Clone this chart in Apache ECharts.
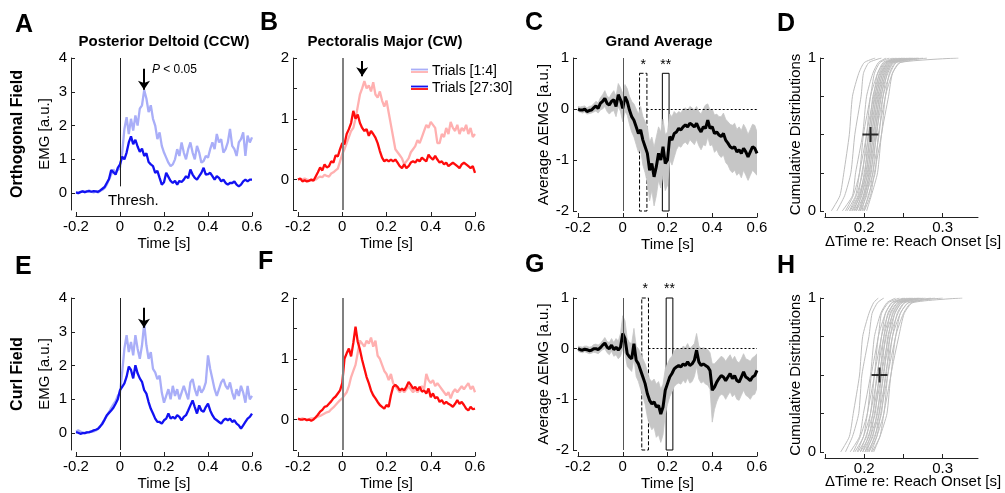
<!DOCTYPE html>
<html><head><meta charset="utf-8">
<script src="https://cdn.jsdelivr.net/npm/echarts@6/dist/echarts.min.js"></script>
<style>html,body{margin:0;padding:0;background:#fff}#c{width:1005px;height:493px}</style>
</head><body><div id="c"></div><script>
const time = [-0.20,-0.19,-0.18,-0.17,-0.16,-0.15,-0.14,-0.13,-0.12,-0.11,
 -0.10,-0.09,-0.08,-0.07,-0.06,-0.05,-0.04,-0.03,-0.02,-0.01,
 0.00,0.01,0.02,0.03,0.04,0.05,0.06,0.07,0.08,0.09,
 0.10,0.11,0.12,0.13,0.14,0.15,0.16,0.17,0.18,0.19,
 0.20,0.21,0.22,0.23,0.24,0.25,0.26,0.27,0.28,0.29,
 0.30,0.31,0.32,0.33,0.34,0.35,0.36,0.37,0.38,0.39,
 0.40,0.41,0.42,0.43,0.44,0.45,0.46,0.47,0.48,0.49,
 0.50,0.51,0.52,0.53,0.54,0.55,0.56,0.57,0.58,0.59,
 0.60];
const timeTicks = [-0.2,0,0.2,0.4,0.6];

// Panel A: Posterior Deltoid, orthogonal field
const aLate = [0.02,0.00,0.03,0.05,0.03,0.05,0.06,0.04,0.06,0.05,
 0.04,0.08,0.13,0.18,0.30,0.42,0.68,0.62,0.55,0.75,
 0.85,1.08,1.00,1.20,1.50,1.68,1.45,1.58,1.38,1.22,
 1.32,1.10,1.18,0.92,0.85,0.80,0.60,0.66,0.45,0.25,
 0.32,0.60,0.48,0.36,0.30,0.36,0.25,0.36,0.33,0.40,
 0.50,0.44,0.70,0.55,0.45,0.40,0.50,0.60,0.75,0.55,
 0.56,0.60,0.50,0.40,0.50,0.45,0.35,0.40,0.30,0.25,
 0.30,0.30,0.35,0.25,0.20,0.25,0.35,0.40,0.35,0.40,
 0.40];
const aEarly = [0.02,0.00,0.04,0.06,0.03,0.05,0.08,0.04,0.02,0.05,
 0.02,0.06,0.10,0.15,0.25,0.40,0.55,0.70,0.60,0.68,
 0.75,1.20,1.90,2.25,1.75,2.20,1.85,2.30,2.00,2.50,
 2.60,3.05,2.80,2.40,2.60,2.20,2.00,1.60,1.80,1.40,
 1.20,1.05,0.90,0.80,0.85,1.00,1.30,1.10,1.50,1.20,
 1.00,1.30,1.50,1.20,1.00,1.40,1.20,0.90,0.95,1.10,
 1.05,1.30,1.50,1.30,1.75,1.50,1.60,1.20,1.30,1.50,
 1.90,1.40,1.30,1.10,1.50,1.60,1.80,1.10,1.70,1.50,
 1.65];
// Panel B: Pectoralis Major, orthogonal field
const bLate = [0.00,0.02,-0.03,-0.01,-0.03,-0.02,0.00,-0.02,0.05,0.12,
 0.20,0.15,0.25,0.20,0.22,0.30,0.28,0.40,0.38,0.50,
 0.60,0.58,0.75,0.83,0.93,1.13,1.00,1.07,0.93,0.85,
 0.80,0.83,0.72,0.80,0.75,0.69,0.60,0.47,0.36,0.30,
 0.33,0.30,0.33,0.30,0.33,0.28,0.22,0.19,0.25,0.19,
 0.22,0.28,0.30,0.28,0.33,0.30,0.36,0.33,0.30,0.41,
 0.36,0.33,0.39,0.33,0.28,0.30,0.25,0.28,0.22,0.25,
 0.28,0.25,0.22,0.19,0.25,0.28,0.25,0.22,0.19,0.22,
 0.11];
const bEarly = [0.00,0.01,0.00,0.02,0.00,-0.01,-0.02,0.00,0.00,0.03,
 0.05,0.04,0.08,0.06,0.05,0.10,0.12,0.15,0.18,0.30,
 0.42,0.50,0.60,0.70,0.80,0.85,1.00,1.20,1.40,1.50,
 1.62,1.50,1.55,1.45,1.60,1.40,1.35,1.45,1.30,1.20,
 1.30,1.10,0.90,0.70,0.50,0.45,0.40,0.35,0.25,0.30,
 0.35,0.45,0.50,0.55,0.65,0.60,0.70,0.80,0.90,0.85,
 0.95,0.90,0.85,0.60,0.60,0.75,0.70,0.85,0.75,0.95,
 0.85,0.80,0.90,0.75,0.85,0.80,0.90,0.75,0.85,0.70,
 0.75];
// Panel C: grand average, orthogonal field
const cMean = [0.00,-0.02,-0.02,0.00,-0.05,-0.03,-0.02,0.02,0.06,0.01,
 0.11,0.15,0.21,0.11,0.08,0.15,0.18,0.05,0.28,0.18,
 0.01,0.24,0.15,-0.02,-0.15,-0.22,-0.35,-0.48,-0.41,-0.61,
 -0.74,-0.87,-1.20,-1.07,-1.33,-1.13,-0.87,-1.00,-0.74,-1.07,
 -1.00,-0.54,-0.61,-0.48,-0.45,-0.38,-0.41,-0.35,-0.31,-0.35,
 -0.28,-0.31,-0.35,-0.28,-0.38,-0.45,-0.35,-0.38,-0.22,-0.38,
 -0.35,-0.48,-0.45,-0.51,-0.54,-0.48,-0.61,-0.67,-0.74,-0.77,
 -0.74,-0.84,-0.80,-0.87,-0.77,-0.84,-0.94,-0.84,-0.74,-0.77,
 -0.87];
const cLo = [-0.05,-0.06,-0.08,-0.06,-0.10,-0.09,-0.08,-0.06,-0.04,-0.08,
 -0.02,0.00,0.05,-0.05,-0.10,-0.05,-0.03,-0.15,0.05,-0.05,
 -0.25,-0.05,-0.12,-0.30,-0.45,-0.55,-0.70,-0.85,-0.80,-1.10,
 -1.25,-1.45,-1.80,-1.60,-1.90,-1.70,-1.40,-1.55,-1.30,-1.60,
 -1.50,-1.00,-1.10,-0.95,-0.80,-0.72,-0.75,-0.68,-0.65,-0.70,
 -0.60,-0.65,-0.70,-0.60,-0.72,-0.80,-0.70,-0.72,-0.55,-0.72,
 -0.70,-0.85,-0.80,-0.90,-0.95,-0.90,-1.05,-1.10,-1.20,-1.25,
 -1.20,-1.30,-1.25,-1.35,-1.20,-1.30,-1.40,-1.30,-1.20,-1.25,
 -1.30];
const cHi = [0.05,0.04,0.05,0.06,0.02,0.05,0.06,0.10,0.15,0.12,
 0.22,0.28,0.36,0.25,0.22,0.30,0.36,0.25,0.50,0.42,
 0.30,0.48,0.40,0.25,0.15,0.10,0.00,-0.10,0.05,-0.15,
 -0.25,-0.35,-0.65,-0.55,-0.75,-0.55,-0.35,-0.45,-0.20,-0.50,
 -0.45,-0.10,-0.15,-0.05,-0.10,-0.05,-0.08,0.00,0.02,-0.02,
 0.05,0.02,-0.02,0.05,-0.05,-0.10,0.00,0.08,0.10,-0.02,
 0.00,-0.12,-0.10,-0.15,-0.15,-0.08,-0.20,-0.25,-0.30,-0.32,
 -0.28,-0.40,-0.35,-0.42,-0.30,-0.38,-0.50,-0.40,-0.30,-0.32,
 -0.45];
const cWindows = [[0.075,0.108,0.7],[0.177,0.207,0.7]];
// Panel E: Posterior Deltoid, curl field
const eLate = [0.03,0.01,-0.02,0.00,0.00,0.02,0.03,0.05,0.08,0.10,
 0.13,0.20,0.28,0.40,0.53,0.60,0.67,0.75,0.87,1.00,
 1.27,1.37,1.47,1.67,1.97,1.87,1.62,2.01,1.77,1.62,
 1.52,1.27,1.17,0.92,0.72,0.58,0.43,0.33,0.33,0.28,
 0.38,0.43,0.58,0.43,0.48,0.43,0.53,0.48,0.38,0.48,
 0.53,0.67,0.82,0.97,0.77,0.58,0.82,0.67,0.63,0.77,
 0.87,0.67,0.53,0.43,0.38,0.33,0.28,0.38,0.43,0.38,
 0.43,0.33,0.38,0.28,0.23,0.13,0.23,0.33,0.43,0.48,
 0.58];
const eEarly = [0.05,0.08,0.05,0.02,0.00,0.03,0.02,0.04,0.05,0.08,
 0.12,0.20,0.30,0.40,0.50,0.62,0.75,0.85,0.95,1.10,
 1.20,1.80,2.50,2.90,2.40,2.70,2.30,2.90,2.50,2.20,
 2.60,3.25,2.60,2.20,2.40,1.90,1.80,1.60,1.70,1.20,
 0.90,1.10,1.30,1.00,1.40,1.10,1.30,1.00,1.20,1.40,
 1.20,1.00,1.50,1.60,1.30,1.10,1.40,1.20,1.30,1.50,
 2.30,1.90,1.60,1.30,1.10,1.30,1.50,1.60,1.40,1.30,
 1.50,1.20,1.00,1.30,1.10,1.40,1.20,0.90,1.40,1.00,
 1.10];
// Panel F: Pectoralis Major, curl field
const fLate = [0.02,0.00,0.00,0.01,-0.01,0.00,-0.02,0.00,0.04,0.08,
 0.13,0.16,0.21,0.22,0.26,0.30,0.35,0.38,0.43,0.48,
 0.60,1.00,1.09,1.17,1.04,1.26,1.53,1.28,1.15,0.98,
 0.84,0.70,0.60,0.48,0.40,0.35,0.29,0.24,0.21,0.18,
 0.24,0.21,0.40,0.54,0.57,0.54,0.48,0.51,0.48,0.54,
 0.62,0.57,0.51,0.54,0.48,0.54,0.46,0.48,0.43,0.51,
 0.37,0.43,0.35,0.37,0.29,0.32,0.26,0.29,0.26,0.24,
 0.21,0.26,0.32,0.26,0.29,0.24,0.18,0.15,0.21,0.17,
 0.18];
const fEarly = [0.00,0.01,0.02,0.01,0.00,0.01,0.02,0.02,0.03,0.05,
 0.06,0.08,0.10,0.12,0.13,0.17,0.20,0.24,0.28,0.32,
 0.35,0.40,0.45,0.55,0.70,0.80,0.90,1.10,1.30,1.25,
 1.20,1.30,1.25,1.35,1.20,1.30,1.05,1.00,0.90,0.80,
 0.75,0.65,0.75,0.60,0.55,0.50,0.45,0.50,0.45,0.50,
 0.55,0.50,0.45,0.50,0.45,0.50,0.55,0.50,0.75,0.65,
 0.60,0.65,0.55,0.60,0.55,0.50,0.45,0.40,0.45,0.35,
 0.45,0.50,0.45,0.50,0.55,0.50,0.55,0.60,0.50,0.55,
 0.45];
// Panel G: grand average, curl field
const gMean = [0.00,-0.02,-0.03,-0.01,-0.02,-0.04,-0.03,0.00,0.00,-0.02,
 0.02,0.07,0.11,0.03,0.00,0.07,-0.02,0.03,-0.03,0.03,
 0.30,0.20,-0.10,-0.16,-0.20,0.10,-0.23,-0.30,-0.43,-0.56,
 -0.69,-0.89,-1.02,-1.09,-1.05,-1.15,-1.12,-1.29,-1.15,-0.82,
 -0.69,-0.56,-0.49,-0.40,-0.36,-0.33,-0.36,-0.30,-0.33,-0.26,
 -0.33,-0.30,-0.23,-0.03,-0.26,-0.33,-0.30,-0.33,-0.36,-0.43,
 -0.82,-0.76,-0.66,-0.59,-0.53,-0.56,-0.63,-0.56,-0.49,-0.59,
 -0.53,-0.63,-0.66,-0.56,-0.46,-0.56,-0.59,-0.63,-0.56,-0.53,
 -0.43];
const gLo = [-0.05,-0.07,-0.08,-0.06,-0.08,-0.10,-0.09,-0.07,-0.08,-0.10,
 -0.06,-0.02,0.00,-0.08,-0.12,-0.05,-0.15,-0.12,-0.20,-0.15,
 0.00,-0.10,-0.35,-0.40,-0.45,-0.20,-0.55,-0.65,-0.80,-0.95,
 -1.10,-1.35,-1.50,-1.60,-1.55,-1.75,-1.70,-1.85,-1.70,-1.30,
 -1.10,-0.95,-0.85,-0.75,-0.70,-0.68,-0.70,-0.62,-0.68,-0.58,
 -0.68,-0.65,-0.55,-0.35,-0.60,-0.68,-0.65,-0.70,-0.72,-0.80,
 -1.45,-1.20,-1.05,-0.95,-0.90,-0.92,-1.00,-0.92,-0.85,-0.95,
 -0.90,-1.00,-1.02,-0.92,-0.82,-0.92,-0.95,-1.00,-0.92,-0.90,
 -0.78];
const gHi = [0.05,0.04,0.03,0.05,0.05,0.03,0.04,0.08,0.09,0.07,
 0.10,0.16,0.22,0.14,0.12,0.20,0.12,0.20,0.15,0.30,
 0.65,0.55,0.20,0.12,0.10,0.40,0.05,0.00,-0.10,-0.20,
 -0.30,-0.45,-0.60,-0.65,-0.60,-0.70,-0.65,-0.80,-0.70,-0.40,
 -0.30,-0.20,-0.15,-0.05,0.00,0.00,-0.02,0.05,0.02,0.10,
 0.00,0.05,0.10,0.30,0.05,0.00,0.02,0.00,-0.02,-0.08,
 -0.30,-0.30,-0.25,-0.20,-0.15,-0.18,-0.25,-0.18,-0.12,-0.22,
 -0.15,-0.25,-0.28,-0.20,-0.10,-0.20,-0.22,-0.25,-0.18,-0.15,
 -0.10];
const gWindows = [[0.085,0.115,1.0],[0.194,0.224,1.0]];
// Panels D and H: cumulative distributions (x at each cumulative level)
const cdfLevels = [0,0.1,0.25,0.5,0.75,0.9,0.97,1];
const dCurves = [
 [0.158,0.169,0.174,0.181,0.185,0.193,0.200,0.214],
 [0.165,0.175,0.183,0.188,0.196,0.199,0.206,0.222],
 [0.172,0.185,0.189,0.198,0.203,0.211,0.218,0.228],
 [0.176,0.186,0.194,0.199,0.208,0.213,0.220,0.232],
 [0.178,0.189,0.194,0.203,0.208,0.217,0.224,0.236],
 [0.181,0.190,0.198,0.203,0.212,0.217,0.226,0.240],
 [0.182,0.192,0.197,0.206,0.211,0.220,0.228,0.245],
 [0.184,0.193,0.201,0.205,0.214,0.219,0.227,0.250],
 [0.185,0.195,0.200,0.208,0.213,0.222,0.229,0.238],
 [0.187,0.194,0.203,0.207,0.216,0.221,0.230,0.242],
 [0.188,0.197,0.202,0.210,0.215,0.224,0.232,0.255],
 [0.190,0.196,0.205,0.209,0.218,0.223,0.231,0.248],
 [0.190,0.199,0.204,0.212,0.217,0.226,0.234,0.260],
 [0.193,0.199,0.207,0.211,0.220,0.225,0.233,0.252],
 [0.193,0.201,0.206,0.214,0.219,0.228,0.236,0.265],
 [0.195,0.200,0.209,0.213,0.222,0.227,0.235,0.258],
 [0.195,0.203,0.208,0.216,0.221,0.230,0.238,0.270],
 [0.197,0.202,0.211,0.215,0.224,0.229,0.237,0.262],
 [0.198,0.206,0.211,0.219,0.224,0.233,0.241,0.275],
 [0.200,0.205,0.214,0.218,0.227,0.232,0.240,0.268],
 [0.200,0.208,0.213,0.222,0.227,0.236,0.245,0.320],
 [0.203,0.209,0.217,0.222,0.231,0.236,0.246,0.280]
];
const hCurves = [
 [0.170,0.181,0.186,0.194,0.198,0.206,0.212,0.218],
 [0.176,0.185,0.193,0.197,0.206,0.210,0.217,0.225],
 [0.182,0.194,0.199,0.208,0.213,0.221,0.229,0.240],
 [0.186,0.195,0.204,0.209,0.218,0.222,0.231,0.245],
 [0.188,0.199,0.204,0.213,0.218,0.227,0.235,0.250],
 [0.191,0.199,0.208,0.213,0.222,0.227,0.236,0.255],
 [0.192,0.203,0.208,0.217,0.222,0.231,0.239,0.252],
 [0.195,0.202,0.211,0.216,0.225,0.230,0.239,0.258],
 [0.195,0.206,0.211,0.220,0.225,0.234,0.243,0.262],
 [0.198,0.205,0.214,0.219,0.228,0.233,0.242,0.260],
 [0.198,0.208,0.213,0.222,0.227,0.237,0.246,0.268],
 [0.201,0.208,0.217,0.222,0.231,0.236,0.245,0.265],
 [0.201,0.211,0.216,0.225,0.230,0.239,0.248,0.272],
 [0.203,0.210,0.219,0.224,0.233,0.239,0.248,0.270],
 [0.204,0.214,0.219,0.228,0.233,0.243,0.252,0.278],
 [0.206,0.213,0.222,0.227,0.236,0.242,0.251,0.275],
 [0.206,0.216,0.221,0.230,0.236,0.246,0.256,0.285],
 [0.209,0.216,0.225,0.230,0.240,0.246,0.257,0.300],
 [0.210,0.220,0.225,0.234,0.240,0.250,0.260,0.290],
 [0.212,0.220,0.229,0.234,0.244,0.251,0.262,0.325]
];
const dMean = [0.208,0.5];
const hMean = [0.2195,0.5];
// significance arrows [time, from, to]
const arrowA = [0.109,3.68,3.06];
const arrowB = [0.090,1.95,1.70];
const arrowE = [0.109,3.71,3.12];
const arrowF = [0.110,2.03,1.71];

const FONT = 'Liberation Sans, Arial, Helvetica, sans-serif';
const DBLUE = '#1212f2', LBLUE = '#a9aef8', DRED = '#ff0c0c', LRED = '#ffb0b0';

const gridsPos = [
 {left:76, top:58, width:176, height:152},
 {left:298, top:58, width:177, height:152},
 {left:578, top:58, width:179, height:153},
 {left:825, top:58, width:153, height:153},
 {left:76, top:298, width:176, height:152},
 {left:298, top:298, width:177, height:152},
 {left:578, top:298, width:179, height:152},
 {left:825, top:298, width:153, height:154}
];

function xAx(gi, min, max, ticks, labels, name){
  return {type:'value', gridIndex:gi, min, max, offset:6,
    axisLine:{show:true, onZero:false, lineStyle:{color:'#222', width:1}},
    axisTick:{show:true, inside:true, length:4, customValues:ticks, lineStyle:{color:'#222'}},
    axisLabel:{show:true, customValues:labels, color:'#000', fontSize:15, fontFamily:FONT, margin:3},
    splitLine:{show:false},
    name:name||'', nameLocation:'middle', nameGap:20,
    nameTextStyle:{color:'#000', fontSize:15, fontFamily:FONT}};
}
function yAx(gi, min, max, ticks, labels, name, gap){
  return {type:'value', gridIndex:gi, min, max, offset:5,
    axisLine:{show:true, onZero:false, lineStyle:{color:'#222', width:1}},
    axisTick:{show:true, inside:true, length:4, customValues:ticks, lineStyle:{color:'#222'}},
    axisLabel:{show:true, customValues:labels, color:'#000', fontSize:15, fontFamily:FONT, margin:4},
    splitLine:{show:false},
    name:name||'', nameLocation:'middle', nameRotate:90, nameGap:gap||19,
    nameTextStyle:{color:'#000', fontSize:15, fontFamily:FONT}};
}
const pairs = ys => time.map((t,i)=>[t, ys[i]]);

function trace(gi, ys, color, z, extra){
  return Object.assign({type:'line', xAxisIndex:gi, yAxisIndex:gi, data:pairs(ys), symbol:'none',
    lineStyle:{color, width:2.3}, z, silent:true}, extra||{});
}
function vline(x, y1, y2, color, w){
  return [{coord:[x,y1], symbol:'none', lineStyle:{color, width:w, type:'solid'}}, {coord:[x,y2], symbol:'none'}];
}
function arrow(a){
  return [{coord:[a[0],a[1]], symbol:'none', lineStyle:{color:'#000', width:2, type:'solid'}},
          {coord:[a[0],a[2]], symbol:'arrow', symbolSize:[9,9]}];
}
function mk(data){ return {silent:true, symbol:'none', label:{show:false}, animation:false, data}; }

// shaded band between lo and hi, drawn as one polygon through the axes' scales
function bandSeries(gi, lo, hi){
  return {type:'custom', xAxisIndex:gi, yAxisIndex:gi, data:[[time[0], lo[0]]], z:1, silent:true, clip:true,
    renderItem:(params, api) => {
      const pts = [];
      for (let i = 0; i < time.length; i++) pts.push(api.coord([time[i], hi[i]]));
      for (let i = time.length - 1; i >= 0; i--) pts.push(api.coord([time[i], lo[i]]));
      return {type:'polygon', shape:{points:pts}, style:{fill:'#c6c6c6', stroke:'#c6c6c6', lineWidth:0.8}};
    }};
}
function boxSeries(gi, wins){
  return {type:'line', xAxisIndex:gi, yAxisIndex:gi, data:[], symbol:'none', z:6, silent:true,
    markArea:{silent:true, animation:false, data:[
      [{coord:[wins[0][0], wins[0][2]], itemStyle:{color:'rgba(255,255,255,0)', borderColor:'#000', borderWidth:1, borderType:'dashed'},
        label:{show:true, position:'top', distance:1, formatter:'*', color:'#000', fontSize:14, fontFamily:FONT}},
       {coord:[wins[0][1], -2]}],
      [{coord:[wins[1][0], wins[1][2]], itemStyle:{color:'#fff', borderColor:'#000', borderWidth:1, borderType:'solid'},
        label:{show:true, position:'top', distance:1, formatter:'**', color:'#000', fontSize:14, fontFamily:FONT}},
       {coord:[wins[1][1], -2]}]
    ]}};
}
function cdfSeries(gi, curves){
  return curves.map(c => ({type:'line', xAxisIndex:gi, yAxisIndex:gi, data:c.map((x,i)=>[x, cdfLevels[i]]),
    symbol:'none', smooth:0.2, lineStyle:{color:'#bdbdbd', width:1}, z:2, silent:true}));
}
function crossSeries(gi, m){
  return {type:'scatter', xAxisIndex:gi, yAxisIndex:gi, data:[m], symbol:'path://M0,8L16,8M8,0L8,16',
    symbolSize:[16,15], itemStyle:{color:'rgba(0,0,0,0)', borderColor:'#000', borderWidth:2}, z:5, silent:true};
}

const xAxes = [
  xAx(0,-0.2,0.6,timeTicks,timeTicks,'Time [s]'),
  xAx(1,-0.2,0.6,timeTicks,timeTicks,'Time [s]'),
  xAx(2,-0.2,0.6,timeTicks,timeTicks,'Time [s]'),
  xAx(3,0.15,0.345,[0.15,0.2,0.25,0.3],[0.2,0.3],''),
  xAx(4,-0.2,0.6,timeTicks,timeTicks,'Time [s]'),
  xAx(5,-0.2,0.6,timeTicks,timeTicks,'Time [s]'),
  xAx(6,-0.2,0.6,timeTicks,timeTicks,'Time [s]'),
  xAx(7,0.15,0.345,[0.15,0.2,0.25,0.3],[0.2,0.3],'')
];
const yAxes = [
  yAx(0,-0.5,4,[0,1,2,3,4],[0,1,2,3,4],'EMG [a.u.]',19),
  yAx(1,-0.5,2,[-0.5,0,0.5,1,1.5,2],[0,1,2],'',19),
  yAx(2,-2,1,[-2,-1,0,1],[-2,-1,0,1],'Average \u0394EMG [a.u.]',19),
  yAx(3,0,1,[0,0.25,0.5,0.75,1],[0,1],'Cumulative Distributions',10),
  yAx(4,-0.5,4,[0,1,2,3,4],[0,1,2,3,4],'EMG [a.u.]',19),
  yAx(5,-0.5,2,[-0.5,0,0.5,1,1.5,2],[0,1,2],'',19),
  yAx(6,-2,1,[-2,-1,0,1],[-2,-1,0,1],'Average \u0394EMG [a.u.]',19),
  yAx(7,0,1,[0,0.25,0.5,0.75,1],[0,1],'Cumulative Distributions',10)
];

const series = [
  // A
  trace(0, aEarly, LBLUE, 2),
  trace(0, aLate, DBLUE, 3, {markLine: mk([vline(0,4,0.2,'#222',1), arrow(arrowA)])}),
  // B
  trace(1, bEarly, LRED, 2),
  trace(1, bLate, DRED, 3, {markLine: mk([vline(0,2,-0.5,'#808080',2), arrow(arrowB)])}),
  // C
  bandSeries(2, cLo, cHi),
  trace(2, cMean, '#000', 3, {lineStyle:{color:'#000', width:3}, markLine: mk([vline(0,1,-2,'#555',1),
     [{coord:[0.107,0], symbol:'none', lineStyle:{color:'#000', width:1, type:[2,2]}}, {coord:[0.6,0], symbol:'none'}]])}),
  boxSeries(2, cWindows),
  // D
  ...cdfSeries(3, dCurves),
  crossSeries(3, dMean),
  // E
  trace(4, eEarly, LBLUE, 2),
  trace(4, eLate, DBLUE, 3, {markLine: mk([vline(0,4,-0.5,'#222',1), arrow(arrowE)])}),
  // F
  trace(5, fEarly, LRED, 2),
  trace(5, fLate, DRED, 3, {markLine: mk([vline(0,2,-0.5,'#808080',2), arrow(arrowF)])}),
  // G
  bandSeries(6, gLo, gHi),
  trace(6, gMean, '#000', 3, {lineStyle:{color:'#000', width:3}, markLine: mk([vline(0,1,-2,'#555',1),
     [{coord:[0.115,0], symbol:'none', lineStyle:{color:'#000', width:1, type:[2,2]}}, {coord:[0.6,0], symbol:'none'}]])}),
  boxSeries(6, gWindows),
  // H
  ...cdfSeries(7, hCurves),
  crossSeries(7, hMean)
];

function label(text, x, y, size, bold, align){
  return {type:'text', z:100, silent:true, style:{text, x, y, fontSize:size, fontWeight:bold?'bold':'normal', fontFamily:FONT, fill:'#000', align:align||'center', verticalAlign:'middle'}};
}
const graphic = [
  label('A',15,25,25,true,'left'),
  label('B',260,23,25,true,'left'),
  label('C',525,23,25,true,'left'),
  label('D',777,24,25,true,'left'),
  label('E',15,267,25,true,'left'),
  label('F',258,262,25,true,'left'),
  label('G',525,265,25,true,'left'),
  label('H',777,266,25,true,'left'),
  label('Posterior Deltoid (CCW)',164,42,15,true),
  label('Pectoralis Major (CW)',385,42,15,true),
  label('Grand Average',659,42,15,true),
  {type:'text', z:100, silent:true, x:18, y:134, rotation:Math.PI/2, style:{text:'Orthogonal Field', x:0, y:0, fontSize:16, fontWeight:'bold', fontFamily:FONT, fill:'#000', align:'center', verticalAlign:'middle'}},
  {type:'text', z:100, silent:true, x:18, y:374, rotation:Math.PI/2, style:{text:'Curl Field', x:0, y:0, fontSize:16, fontWeight:'bold', fontFamily:FONT, fill:'#000', align:'center', verticalAlign:'middle'}},
  label('\u0394Time re: Reach Onset [s]',913,242,15,false),
  label('\u0394Time re: Reach Onset [s]',913,482,15,false),
  // legend in B
  {type:'line', z:100, silent:true, shape:{x1:411,y1:69.5,x2:428,y2:69.5}, style:{stroke:LBLUE, lineWidth:1.8}},
  {type:'line', z:100, silent:true, shape:{x1:411,y1:72,x2:428,y2:72}, style:{stroke:LRED, lineWidth:1.8}},
  {type:'line', z:100, silent:true, shape:{x1:411,y1:86.5,x2:428,y2:86.5}, style:{stroke:DBLUE, lineWidth:1.8}},
  {type:'line', z:100, silent:true, shape:{x1:411,y1:89,x2:428,y2:89}, style:{stroke:DRED, lineWidth:1.8}},
  label('Trials [1:4]',432,71,14,false,'left'),
  label('Trials [27:30]',432,88,14,false,'left')
];

const chart = echarts.init(document.getElementById('c'), null, {renderer:'canvas', width:1005, height:493});
chart.setOption({
  animation:false,
  backgroundColor:'#fff',
  textStyle:{fontFamily:FONT},
  grid: gridsPos.map(g => Object.assign({containLabel:false}, g)),
  xAxis: xAxes,
  yAxis: yAxes,
  series,
  graphic
});
// annotations in panel A placed at data coordinates through the grid's scales
const pP = chart.convertToPixel({gridIndex:0}, [0.145, 3.66]);
const pT = chart.convertToPixel({gridIndex:0}, [-0.055, -0.23]);
graphic.push(
  {type:'text', z:100, silent:true, style:{text:'{i|P} < 0.05', x:pP[0], y:pP[1], fontSize:12, fontFamily:FONT, fill:'#000', align:'left', verticalAlign:'middle',
     rich:{i:{fontStyle:'italic', fontSize:12, fontFamily:FONT, fill:'#000'}}}},
  label('Thresh.', pT[0], pT[1], 15, false, 'left')
);
chart.setOption({graphic}, {replaceMerge:['graphic']});
</script></body></html>
